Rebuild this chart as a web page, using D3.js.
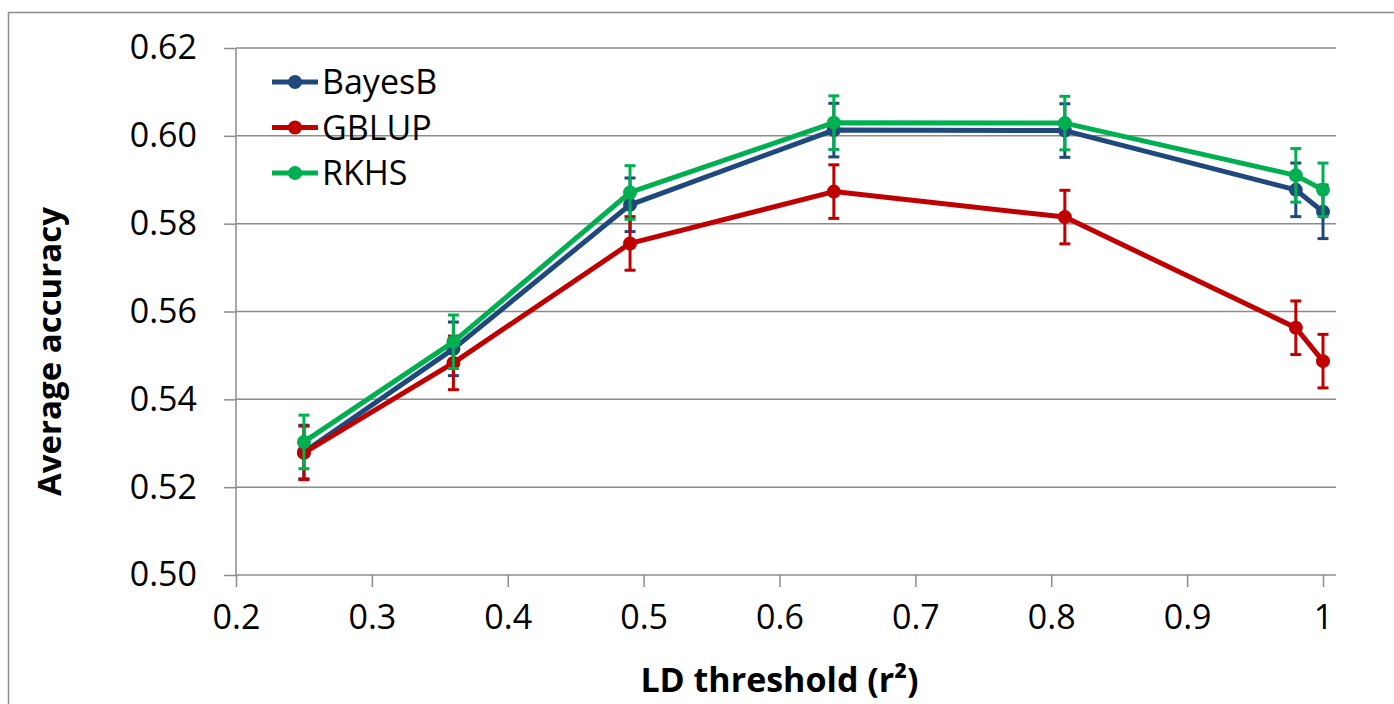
<!DOCTYPE html>
<html>
<head>
<meta charset="utf-8">
<script src="https://cdn.jsdelivr.net/npm/d3@7"></script>
<style>
  body { margin: 0; background: #fff; }
  text { font-family: "Open Sans", sans-serif; fill: #000; }
</style>
</head>
<body>
<svg id="chart" width="1394" height="704"></svg>
<script>
// LD threshold values (r^2)
var thresholds = [0.25, 0.36, 0.49, 0.64, 0.81, 0.98, 1.0];

// average accuracy per method
var bayesB = [0.5280, 0.5515, 0.5843, 0.6013, 0.6012, 0.5877, 0.5827];
var gblup  = [0.5278, 0.5483, 0.5755, 0.5873, 0.5815, 0.5563, 0.5487];
var rkhs   = [0.5303, 0.5531, 0.5871, 0.6030, 0.6029, 0.5910, 0.5877];

// error bar half widths
var bayesBErr = [0.0061, 0.0061, 0.0061, 0.0061, 0.0061, 0.0061, 0.0061];
var gblupErr  = [0.0061, 0.0061, 0.0061, 0.0061, 0.0061, 0.0061, 0.0061];
var rkhsErr   = [0.0061, 0.0061, 0.0061, 0.0061, 0.0061, 0.0061, 0.0061];

var seriesNames = ["BayesB", "GBLUP", "RKHS"];
var seriesColors = ["#1f497d", "#c00000", "#00b050"];

var xTicks = [0.2, 0.3, 0.4, 0.5, 0.6, 0.7, 0.8, 0.9, 1];
var yTicks = [0.50, 0.52, 0.54, 0.56, 0.58, 0.60, 0.62];

var series = [
  {name: seriesNames[0], color: seriesColors[0], vals: bayesB, err: bayesBErr},
  {name: seriesNames[1], color: seriesColors[1], vals: gblup, err: gblupErr},
  {name: seriesNames[2], color: seriesColors[2], vals: rkhs, err: rkhsErr}
];

var svg = d3.select("#chart");
var plotLeft = 236, plotRight = 1323, plotTop = 48, plotBottom = 575, gridEnd = 1336;

var x = d3.scaleLinear().domain([0.2, 1]).range([plotLeft, plotRight]);
var y = d3.scaleLinear().domain([0.50, 0.62]).range([plotBottom, plotTop]);

// outer chart border
svg.append("rect")
  .attr("x", 8.5).attr("y", 12.5)
  .attr("width", 1420).attr("height", 740)
  .attr("fill", "none")
  .attr("stroke", "#8c8c8c")
  .attr("stroke-width", 1.5);

// horizontal gridlines
svg.append("g").selectAll("line")
  .data(yTicks)
  .enter().append("line")
  .attr("x1", plotLeft).attr("x2", gridEnd)
  .attr("y1", function(d){ return y(d); })
  .attr("y2", function(d){ return y(d); })
  .attr("stroke", "#8c8c8c")
  .attr("stroke-width", 1.5);

// y axis
var yAxis = svg.append("g")
  .attr("transform", "translate(" + plotLeft + ",0)")
  .call(d3.axisLeft(y).tickValues(yTicks).tickSize(12).tickPadding(27)
    .tickFormat(d3.format(".2f")));
yAxis.select(".domain").remove();
yAxis.selectAll(".tick line").attr("stroke", "#8c8c8c").attr("stroke-width", 1.5);
yAxis.selectAll(".tick text").style("font-size", "34px").style("font-family", "'Open Sans', sans-serif");
svg.append("line")
  .attr("x1", plotLeft).attr("x2", plotLeft)
  .attr("y1", plotTop).attr("y2", plotBottom)
  .attr("stroke", "#8c8c8c").attr("stroke-width", 1.5);

// x axis
var xAxis = svg.append("g")
  .attr("transform", "translate(0," + plotBottom + ")")
  .call(d3.axisBottom(x).tickValues(xTicks).tickSize(12).tickPadding(18)
    .tickFormat(function(d){ return d === 1 ? "1" : d3.format(".1f")(d); }));
xAxis.select(".domain").remove();
xAxis.selectAll(".tick line").attr("stroke", "#8c8c8c").attr("stroke-width", 1.5);
xAxis.selectAll(".tick text").style("font-size", "34px").style("font-family", "'Open Sans', sans-serif");

// axis titles
svg.append("text")
  .attr("transform", "translate(61," + ((plotTop + plotBottom) / 2 + 40) + ") rotate(-90)")
  .attr("text-anchor", "middle")
  .style("font-size", "33px")
  .style("font-weight", "bold")
  .text("Average accuracy");

svg.append("text")
  .attr("x", (plotLeft + plotRight) / 2)
  .attr("y", 692)
  .attr("text-anchor", "middle")
  .style("font-size", "34px")
  .style("font-weight", "bold")
  .text("LD threshold (r²)");

var line = d3.line()
  .x(function(d){ return x(d[0]); })
  .y(function(d){ return y(d[1]); });

series.forEach(function(s) {
  var pts = thresholds.map(function(t, i){ return [t, s.vals[i], s.err[i]]; });
  var g = svg.append("g").attr("class", "series");

  // error bars
  var eb = g.selectAll(".err").data(pts).enter().append("g").attr("class", "err");
  eb.append("line")
    .attr("x1", function(d){ return x(d[0]); })
    .attr("x2", function(d){ return x(d[0]); })
    .attr("y1", function(d){ return y(d[1] - d[2]); })
    .attr("y2", function(d){ return y(d[1] + d[2]); })
    .attr("stroke", s.color).attr("stroke-width", 3);
  [-1, 1].forEach(function(sign) {
    eb.append("line")
      .attr("x1", function(d){ return x(d[0]) - 5.5; })
      .attr("x2", function(d){ return x(d[0]) + 5.5; })
      .attr("y1", function(d){ return y(d[1] + sign * d[2]); })
      .attr("y2", function(d){ return y(d[1] + sign * d[2]); })
      .attr("stroke", s.color).attr("stroke-width", 3);
  });

  g.append("path")
    .datum(pts)
    .attr("d", line)
    .attr("fill", "none")
    .attr("stroke", s.color)
    .attr("stroke-width", 5)
    .attr("stroke-linejoin", "round");

  g.selectAll("circle").data(pts).enter().append("circle")
    .attr("cx", function(d){ return x(d[0]); })
    .attr("cy", function(d){ return y(d[1]); })
    .attr("r", 7)
    .attr("fill", s.color);
});

// legend
var legend = svg.append("g").attr("class", "legend");
series.forEach(function(s, i) {
  var ly = 82 + i * 45.5;
  legend.append("line")
    .attr("x1", 272).attr("x2", 318)
    .attr("y1", ly).attr("y2", ly)
    .attr("stroke", s.color).attr("stroke-width", 5);
  legend.append("circle")
    .attr("cx", 295).attr("cy", ly).attr("r", 7)
    .attr("fill", s.color);
  legend.append("text")
    .attr("x", 322).attr("y", ly)
    .attr("dy", "0.36em")
    .style("font-size", "34px")
    .text(s.name);
});
</script>
</body>
</html>
